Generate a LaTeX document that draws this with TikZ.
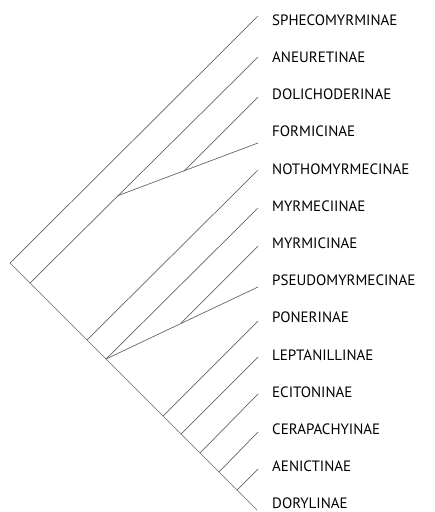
\documentclass[tikz,border=0pt]{standalone}
\usepackage{fontspec}
\setmainfont{PT Sans}
\begin{document}
\begin{tikzpicture}[
    x=1pt, y=-1pt,
    taxon/.style={anchor=west, inner sep=0pt, font=\fontsize{15}{17}\selectfont},
    branch/.style={draw=black!60, line width=0.7pt}
]
\useasboundingbox (0,0) rectangle (435,512);

% Labels
\node[taxon] (sphe) at (272, 20.0) {SPHECOMYRMINAE};
\node[taxon] (aneu) at (272, 57.2) {ANEURETINAE};
\node[taxon] (doli) at (272, 94.4) {DOLICHODERINAE};
\node[taxon] (form) at (272,131.6) {FORMICINAE};
\node[taxon] (noth) at (272,168.8) {NOTHOMYRMECINAE};
\node[taxon] (myrc) at (272,206.0) {MYRMECIINAE};
\node[taxon] (myrm) at (272,243.2) {MYRMICINAE};
\node[taxon] (pseu) at (272,280.4) {PSEUDOMYRMECINAE};
\node[taxon] (pone) at (272,317.6) {PONERINAE};
\node[taxon] (lept) at (272,354.8) {LEPTANILLINAE};
\node[taxon] (ecit) at (272,392.0) {ECITONINAE};
\node[taxon] (cera) at (272,429.2) {CERAPACHYINAE};
\node[taxon] (aeni) at (272,466.4) {AENICTINAE};
\node[taxon] (dory) at (272,503.6) {DORYLINAE};

% Tips
\coordinate (t1) at (258, 16);
\coordinate (t2) at (258, 57);
\coordinate (t3) at (258, 97);
\coordinate (t4) at (258,143);
\coordinate (t5) at (258,170);
\coordinate (t6) at (258,208);
\coordinate (t7) at (258,246);
\coordinate (t8) at (258,287);
\coordinate (t9) at (258,321);
\coordinate (t10) at (258,357);
\coordinate (t11) at (258,394);
\coordinate (t12) at (258,432);
\coordinate (t13) at (258,469);
\coordinate (t14) at (257,510);

% Internal nodes
\coordinate (root) at (10,263);
\coordinate (n1) at (30,283);
\coordinate (n2) at (87,340);
\coordinate (n3) at (106,359);
\coordinate (n4) at (163,416);
\coordinate (n5) at (181,434);
\coordinate (n6) at (200,453);
\coordinate (n7) at (219,472);
\coordinate (n8) at (237,490);
\coordinate (a1) at (117,196);
\coordinate (a2) at (184,171);
\coordinate (b1) at (181,323);

% Spine
\draw[branch] (root) -- (n1) -- (n2) -- (n3) -- (n4) -- (n5) -- (n6) -- (n7) -- (n8) -- (t14);

% Branches
\draw[branch] (root) -- (t1);
\draw[branch] (n1) -- (t2);
\draw[branch] (a1) -- (t4);
\draw[branch] (a2) -- (t3);
\draw[branch] (n2) -- (t5);
\draw[branch] (n3) -- (t6);
\draw[branch] (n3) -- (t8);
\draw[branch] (b1) -- (t7);
\draw[branch] (n4) -- (t9);
\draw[branch] (n5) -- (t10);
\draw[branch] (n6) -- (t11);
\draw[branch] (n7) -- (t12);
\draw[branch] (n8) -- (t13);

\end{tikzpicture}
\end{document}
